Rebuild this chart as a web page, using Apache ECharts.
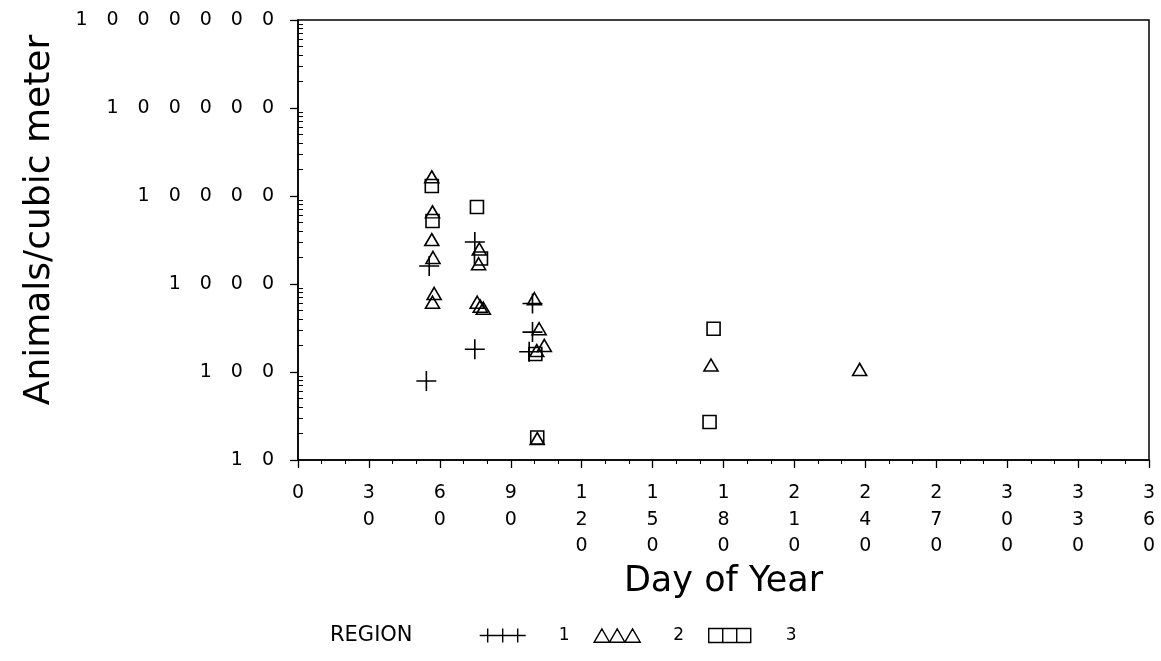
<!DOCTYPE html>
<html>
<head>
<meta charset="utf-8">
<title>Animals per cubic meter by day of year</title>
<script src="https://cdn.jsdelivr.net/npm/echarts@6/dist/echarts.min.js"></script>
<style>
  html, body { margin: 0; padding: 0; background: #fff; }
  #chart { width: 1161px; height: 661px; }
</style>
</head>
<body>
<div id="chart"></div>
<script>
// Region 1 samples (plus markers): day of year, animals per cubic meter
const region1Days = [54.3, 55.5, 74.8, 74.8, 99.2, 99.2, 97.8];
const region1Vals = [79, 1600, 3000, 181, 600, 284, 170];

// Region 2 samples (triangle markers)
const region2Days = [56.6, 56.9, 56.6, 57.1, 57.6, 56.9, 76.7, 76.4, 75.8, 77.1, 78.4, 100, 102, 104.2, 101, 101.2, 174.7, 237.6];
const region2Vals = [16500, 6600, 3200, 2000, 780, 620, 2500, 1700, 620, 560, 530, 680, 310, 200, 175, 17.5, 120, 107];

// Region 3 samples (square markers)
const region3Days = [56.6, 56.9, 75.7, 77.4, 100.4, 101.2, 175.8, 174.1];
const region3Vals = [13000, 5200, 7500, 1950, 160, 18, 310, 27];

// Axis ranges
const dayTicks = { min: 0, max: 360, step: 30 };
const densityRange = { min: 10, max: 1000000 };
const regionNames = ['1', '2', '3'];

const FONT = 'DejaVu Sans';

// log-decade minor tick positions (2..9 within each decade)
const minorDensityTicks = [];
for (let p = densityRange.min; p < densityRange.max; p *= 10) {
  for (let m = 2; m <= 9; m++) minorDensityTicks.push(m * p);
}

const pairs = (xs, ys) => xs.map((x, i) => [x, ys[i]]);

const plusPath = 'path://M0,10L20,10M10,0L10,20';
const plusLegend = 'path://M0,7L46,7M8,0L8,14M23,0L23,14M38,0L38,14';
const triLegend = 'path://M0,14L8,0L16,14ZM16,14L24,0L32,14ZM32,14L40,0L48,14Z';
const sqLegend = 'path://M0,0H14V14H0ZM14,0H28V14H14ZM28,0H42V14H28Z';

const markStyle = { color: 'transparent', borderColor: '#000', borderWidth: 1.6, opacity: 1 };

const chart = echarts.init(document.getElementById('chart'), null, { renderer: 'canvas' });

chart.setOption({
  backgroundColor: '#fff',
  animation: false,
  textStyle: { fontFamily: FONT, color: '#000' },
  title: {
    text: 'REGION',
    left: 325, top: 620,
    textStyle: { fontFamily: FONT, fontSize: 21, fontWeight: 'normal', color: '#000' }
  },
  legend: {
    left: 474, top: 622,
    itemWidth: 46, itemHeight: 14, itemGap: 24,
    selectedMode: false,
    itemStyle: { color: 'transparent', borderColor: '#000', borderWidth: 1.4 },
    textStyle: { fontFamily: FONT, fontSize: 17, color: '#000', padding: [0, 0, 0, 28] },
    data: [
      { name: regionNames[0], icon: plusLegend },
      { name: regionNames[1], icon: triLegend },
      { name: regionNames[2], icon: sqLegend }
    ]
  },
  grid: {
    left: 298, right: 12, top: 20, bottom: 201,
    show: true, borderColor: '#000', borderWidth: 1.5,
    backgroundColor: 'transparent'
  },
  xAxis: {
    type: 'value',
    min: dayTicks.min, max: dayTicks.max, interval: dayTicks.step,
    name: 'Day of Year',
    nameLocation: 'middle', nameGap: 98,
    nameTextStyle: { fontFamily: FONT, fontSize: 35, color: '#000' },
    axisLine: { show: true, lineStyle: { color: '#000', width: 1.5 } },
    axisTick: { show: true, inside: false, length: 8, lineStyle: { color: '#000', width: 1.3 } },
    minorTick: { show: true, splitNumber: 3, length: 4, lineStyle: { color: '#000', width: 1 } },
    splitLine: { show: false },
    axisLabel: {
      margin: 20, fontFamily: FONT, fontSize: 19, lineHeight: 26.5, color: '#000',
      formatter: v => String(v).split('').join('\n')
    }
  },
  yAxis: [
    {
      type: 'log', logBase: 10,
      min: densityRange.min, max: densityRange.max,
      name: 'Animals/cubic meter',
      nameLocation: 'middle', nameGap: 240,
      nameTextStyle: { fontFamily: FONT, fontSize: 36, color: '#000', padding: [0, 0, 0, 40] },
      axisLine: { show: true, lineStyle: { color: '#000', width: 1.5 } },
      axisTick: { show: true, inside: false, length: 8, lineStyle: { color: '#000', width: 1.3 } },
      splitLine: { show: false },
      axisLabel: {
        margin: 24, fontFamily: FONT, fontSize: 19, color: '#000',
        formatter: v => String(Math.round(v)).split('').join('\u2003')
      }
    },
    {
      // minor tick marks at 2..9 of each decade, drawn on the same scale
      type: 'log', logBase: 10,
      min: densityRange.min, max: densityRange.max,
      position: 'left', offset: 0,
      axisLine: { show: false },
      axisLabel: { show: false },
      splitLine: { show: false },
      axisTick: {
        show: true, inside: true, length: 5,
        customValues: minorDensityTicks,
        lineStyle: { color: '#000', width: 1 }
      }
    }
  ],
  series: [
    {
      name: regionNames[0], type: 'scatter', yAxisIndex: 0,
      symbol: plusPath, symbolSize: 20,
      itemStyle: markStyle,
      data: pairs(region1Days, region1Vals)
    },
    {
      name: regionNames[1], type: 'scatter', yAxisIndex: 0,
      symbol: 'triangle', symbolSize: [14, 12],
      itemStyle: markStyle,
      data: pairs(region2Days, region2Vals)
    },
    {
      name: regionNames[2], type: 'scatter', yAxisIndex: 0,
      symbol: 'rect', symbolSize: [13, 13],
      itemStyle: markStyle,
      data: pairs(region3Days, region3Vals)
    }
  ]
});
</script>
</body>
</html>
